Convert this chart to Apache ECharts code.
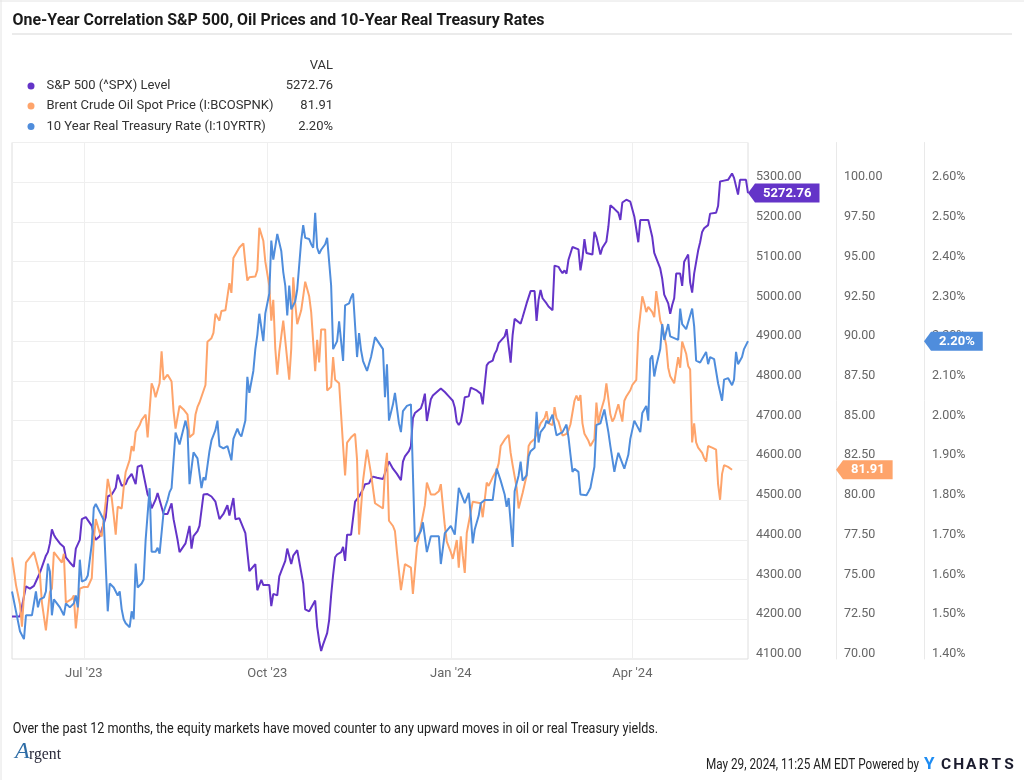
<!DOCTYPE html>
<html>
<head>
<meta charset="utf-8">
<script src="https://cdn.jsdelivr.net/npm/echarts@6/dist/echarts.min.js"></script>
<style>
html, body { margin: 0; background: #fff; }
#main { width: 1024px; height: 780px; }
</style>
</head>
<body>
<div id="main"></div>
<script>
// days counted from 26 May 2023
var spxDays = [0,4,7,9,10,11,12,14,17,18,19,20,21,22,24,26,27,28,29,31,32,33,34,35,37,38,40,41,42,44,45,47,48,50,51,52,53,55,57,58,60,61,62,63,65,66,68,69,70,72,73,76,78,80,81,83,84,85,87,88,89,90,91,93,94,96,97,98,100,102,104,106,108,109,111,112,114,115,117,119,120,122,123,125,126,127,129,130,131,133,134,135,137,138,140,141,143,144,146,147,149,150,152,153,154,155,156,158,159,160,161,162,163,165,166,167,168,170,171,172,174,176,177,179,180,181,183,186,187,189,191,193,195,196,197,199,200,201,202,203,205,206,207,208,210,211,213,215,216,217,219,221,222,223,224,225,226,227,229,230,231,233,235,236,238,239,241,242,243,244,245,247,248,249,250,251,252,253,255,256,258,259,260,261,262,263,264,265,266,268,269,271,272,274,275,276,277,278,279,281,282,284,285,286,287,288,289,291,292,293,295,296,298,299,300,302,304,305,306,308,310,311,312,313,314,315,317,319,320,321,322,323,325,326,327,329,330,331,332,333,335,336,337,338,339,340,341,342,344,345,346,347,349,350,351,353,354,355,356,357,359,360,361,362,364,365,366,368,369];
var spxValues = [4207,4207,4283,4277,4273,4284,4295,4317,4360,4369,4391,4426,4413,4404,4391,4382,4356,4352,4343,4332,4378,4382,4400,4452,4457,4452,4435,4413,4400,4409,4413,4457,4509,4514,4522,4531,4564,4536,4540,4553,4566,4566,4540,4584,4588,4590,4514,4505,4479,4501,4518,4465,4465,4492,4452,4400,4369,4374,4391,4395,4435,4378,4409,4422,4435,4514,4509,4515,4509,4496,4452,4465,4487,4461,4505,4452,4454,4452,4417,4321,4321,4339,4273,4299,4286,4290,4286,4233,4264,4260,4308,4321,4347,4378,4339,4360,4374,4369,4290,4225,4220,4216,4247,4181,4146,4120,4137,4165,4198,4260,4312,4356,4363,4369,4382,4347,4413,4413,4413,4496,4509,4527,4540,4542,4553,4559,4556,4553,4553,4597,4579,4566,4550,4597,4610,4623,4636,4706,4719,4722,4731,4746,4768,4699,4754,4763,4772,4781,4785,4772,4761,4750,4733,4697,4689,4697,4724,4759,4761,4783,4785,4776,4768,4741,4839,4846,4851,4868,4877,4895,4897,4912,4930,4930,4846,4916,4956,4951,4944,4960,4995,5000,5026,5026,5026,4951,5004,5029,5008,4995,4987,4978,5090,5087,5078,5071,5078,5070,5105,5137,5135,5131,5078,5109,5157,5122,5120,5118,5175,5162,5118,5135,5151,5188,5242,5233,5223,5205,5249,5256,5251,5247,5214,5210,5149,5205,5205,5205,5207,5162,5122,5109,5083,5057,5017,4995,4969,4991,5008,5070,5070,5039,5100,5109,5118,5048,5022,5070,5128,5149,5175,5184,5192,5221,5223,5223,5240,5302,5297,5304,5306,5309,5322,5311,5269,5306,5306,5306,5272.76];

var oilDays = [0,2,4,5,7,9,11,12,14,15,17,19,20,21,23,25,26,27,28,30,31,32,34,36,38,40,41,42,44,45,47,48,50,51,52,53,55,56,57,59,60,61,62,64,65,67,68,70,71,72,74,75,76,78,79,80,81,82,84,86,88,89,91,92,93,94,97,98,100,101,102,104,105,107,108,109,110,111,113,114,116,117,118,119,122,123,124,126,127,129,130,131,132,133,134,136,137,139,140,141,142,143,145,146,147,149,150,152,153,154,155,157,158,160,161,162,164,166,167,168,170,172,173,174,176,178,180,182,186,187,188,189,191,192,193,195,196,197,198,200,201,202,203,204,205,207,208,210,212,214,215,217,218,220,221,223,224,225,226,227,228,230,231,232,235,236,238,239,241,243,244,245,247,249,250,251,253,254,255,256,258,259,260,262,263,264,265,267,268,269,271,272,273,274,276,278,279,280,282,283,284,285,286,287,289,290,292,293,294,295,297,298,300,301,302,304,305,306,307,308,310,311,313,314,316,317,318,319,321,322,323,324,325,326,328,329,330,332,334,335,336,338,339,340,341,342,343,344,346,347,348,349,351,353,354,355,356,357,359,361];
var oilValues = [76.40,74.65,73.45,72.03,76.07,76.40,76.73,76.85,75.30,73.55,71.80,74.20,74.43,76.73,76.40,76.07,76.62,73.55,73.55,73.78,74.00,71.92,74.43,74.53,74.53,75.09,77.49,78.81,77.93,77.71,79.90,81.33,80.12,79.03,77.83,79.58,79.47,80.78,81.77,82.53,83.40,83.08,84.28,84.72,85.05,85.38,83.95,87.35,87.02,86.47,87.35,89.36,87.57,87.89,87.68,87.46,85.60,84.50,85.93,85.70,85.38,83.95,84.17,85.38,85.86,86.14,87.24,89.97,90.19,90.52,91.72,91.29,91.90,91.94,91.99,93.65,93.04,95.23,95.67,95.89,96.15,94.90,93.81,94.02,94.07,94.46,97.13,96.32,95.00,93.48,91.29,92.60,89.53,87.89,89.32,91.29,91.18,87.57,89.53,94.02,92.38,91.07,91.94,92.82,93.74,92.82,91.83,88.11,90.08,88.66,90.74,90.74,86.90,87.13,89.00,87.57,87.35,83.40,81.55,83.62,83.95,84.17,82.53,77.83,81.22,83.18,81.65,79.80,79.47,81.87,82.97,78.70,78.37,78.04,76.73,74.33,74.22,75.97,75.85,75.75,74.10,74.10,77.05,76.95,78.37,79.68,81.10,80.35,80.35,80.55,81.00,78.37,77.38,76.73,76.30,77.49,75.75,77.72,76.50,75.42,77.93,79.25,79.90,79.80,79.80,78.92,81.10,80.89,81.43,81.87,82.31,83.40,83.80,84.10,82.97,82.20,80.78,79.47,79.36,80.45,81.55,83.40,83.62,83.85,84.17,84.50,84.83,85.15,85.59,84.83,84.72,85.85,85.15,84.94,84.06,84.17,84.39,84.77,86.25,86.58,86.25,86.60,84.83,84.17,83.73,83.40,83.84,86.14,84.83,85.49,86.36,87.35,85.38,84.94,85.16,86.03,86.14,84.94,86.25,86.52,86.91,87.24,87.57,90.52,92.82,92.38,91.83,92.16,91.83,91.51,93.15,92.27,91.29,90.96,89.75,88.33,87.79,87.35,88.99,88.33,89.97,89.21,88.44,88.22,83.63,84.83,83.63,83.30,82.97,82.64,82.42,83.40,83.30,83.18,81.00,80.02,81.65,82.20,82.09,81.91];

var rateDays = [0,2,4,6,7,8,10,11,12,13,14,16,17,18,19,20,21,22,24,26,27,29,31,32,33,34,35,37,38,40,41,42,44,46,47,48,49,51,53,54,55,56,57,59,60,61,62,63,65,66,67,69,70,72,73,74,75,76,78,79,80,82,83,84,86,87,88,89,91,92,93,95,96,97,99,100,102,103,104,106,108,109,110,111,113,114,115,117,118,119,121,122,123,124,126,127,129,130,131,132,133,135,136,137,138,139,140,142,143,145,146,147,149,150,151,152,153,154,155,157,158,160,161,163,164,166,167,169,170,171,173,174,175,176,178,180,181,182,184,186,187,188,189,191,192,194,195,196,198,200,201,202,203,205,206,207,208,210,212,214,215,217,218,220,221,222,224,226,227,229,230,231,232,234,235,237,238,241,243,245,247,248,249,251,252,254,255,256,258,259,260,262,263,264,265,267,268,269,271,272,273,274,276,278,279,280,281,282,284,285,286,288,289,290,292,293,295,296,297,299,300,302,303,304,305,307,308,309,310,312,313,315,316,317,318,319,320,321,322,323,325,326,327,329,330,331,334,335,336,338,339,341,342,343,345,346,348,349,350,352,353,354,356,357,359,360,361,362,363,364,366,367,369];
var rateValues = [1.57,1.52,1.47,1.45,1.51,1.51,1.51,1.51,1.57,1.53,1.55,1.555,1.57,1.64,1.62,1.51,1.55,1.55,1.53,1.51,1.54,1.53,1.54,1.56,1.53,1.65,1.595,1.60,1.61,1.69,1.78,1.79,1.77,1.75,1.75,1.52,1.59,1.58,1.56,1.57,1.525,1.50,1.49,1.48,1.52,1.50,1.64,1.58,1.59,1.60,1.70,1.83,1.67,1.67,1.68,1.665,1.66,1.77,1.80,1.82,1.83,1.97,1.97,1.94,1.98,2.00,1.976,1.84,1.92,1.92,1.905,1.83,1.857,1.85,1.923,1.95,1.976,2.00,1.936,1.93,1.936,1.936,1.90,1.954,1.98,1.967,1.96,2.00,2.11,2.07,2.125,2.18,2.216,2.269,2.20,2.27,2.32,2.453,2.405,2.41,2.47,2.427,2.374,2.34,2.265,2.34,2.28,2.30,2.33,2.453,2.492,2.46,2.457,2.444,2.435,2.523,2.435,2.42,2.43,2.444,2.46,2.34,2.18,2.20,2.25,2.15,2.29,2.295,2.31,2.32,2.16,2.22,2.177,2.15,2.125,2.16,2.164,2.21,2.195,2.18,2.059,2.142,2.00,2.041,2.07,1.993,1.971,2.024,2.037,2.041,2.037,1.695,1.69,1.722,1.744,1.74,1.669,1.709,1.709,1.709,1.639,1.717,1.722,1.735,1.74,1.713,1.831,1.805,1.792,1.818,1.761,1.691,1.726,1.761,1.792,1.80,1.805,1.80,1.879,1.849,1.814,1.783,1.805,1.682,1.822,1.862,1.897,1.849,1.862,1.91,1.923,1.932,2.022,1.945,1.971,1.984,2.00,1.993,2.015,2.017,1.963,1.964,1.971,1.99,1.958,1.914,1.871,1.879,1.871,1.814,1.812,1.812,1.821,1.831,1.884,1.989,1.993,2.011,2.028,1.971,1.936,1.871,1.897,1.919,1.919,1.879,1.879,1.914,1.954,2.00,1.998,1.971,2.019,2.028,2.037,2.00,2.155,2.164,2.111,2.138,2.18,2.243,2.203,2.243,2.212,2.212,2.203,2.282,2.243,2.23,2.225,2.282,2.238,2.151,2.146,2.142,2.173,2.142,2.16,2.155,2.151,2.094,2.05,2.103,2.107,2.111,2.089,2.103,2.173,2.142,2.16,2.18,2.20];

var seriesNames = ['S&P 500 (^SPX) Level', 'Brent Crude Oil Spot Price (I:BCOSPNK)', '10 Year Real Treasury Rate (I:10YRTR)'];
var lastValues = ['5272.76', '81.91', '2.20%'];
var quarterDates = [[2023, 6, 1], [2023, 9, 1], [2024, 0, 1], [2024, 3, 1]];
var quarterLabels = ["Jul '23", "Oct '23", "Jan '24", "Apr '24"];

var colors = ['#6434c8', '#fea46b', '#4f8ddc'];
var font = 'Roboto';

function dayToTime(d) {
    return new Date(2023, 4, 26 + d).getTime();
}

function pairs(days, values) {
    return days.map(function (d, i) { return [dayToTime(d), values[i]]; });
}

var quarterTimes = quarterDates.map(function (q) { return new Date(q[0], q[1], q[2]).getTime(); });
var xMin = dayToTime(0);
var xMax = new Date(2024, 4, 29).getTime();

var measureCtx = document.createElement('canvas').getContext('2d');
function textWidth(str, f) {
    measureCtx.font = f;
    return measureCtx.measureText(str).width;
}

// text squeezed to a given width (the reference uses a condensed face)
function fitText(str, x, y, size, weight, width, fill, family) {
    var f = weight + ' ' + size + 'px ' + (family || font);
    return {
        type: 'text', x: x, y: y, scaleX: width / textWidth(str, f),
        style: { text: str, font: f, fill: fill, verticalAlign: 'middle' }
    };
}

function yAxis(min, max, interval, offset, fmt) {
    return {
        type: 'value', position: 'right', offset: offset,
        min: min, max: max, interval: interval,
        axisLine: { show: offset > 0, lineStyle: { color: '#e9e9e9' } },
        axisTick: { show: false },
        splitLine: { show: offset === 0, lineStyle: { color: '#efefef' } },
        axisLabel: {
            showMaxLabel: false, color: '#666', fontSize: 12.5, fontFamily: font,
            margin: 8, verticalAlign: 'bottom', lineHeight: 10, formatter: fmt
        }
    };
}

var staticGraphics = [
    { type: 'line', shape: { x1: 1, y1: 0, x2: 1, y2: 780 }, style: { stroke: '#e4e4e4', lineWidth: 1 } },
    { type: 'line', shape: { x1: 0, y1: 1, x2: 1024, y2: 1 }, style: { stroke: '#e4e4e4', lineWidth: 1 } },
    fitText('One-Year Correlation S&P 500, Oil Prices and 10-Year Real Treasury Rates', 12.5, 21, 16.5, 'bold', 532, '#1a1a1a'),
    { type: 'line', shape: { x1: 12, y1: 34, x2: 1012, y2: 34 }, style: { stroke: '#ebebeb', lineWidth: 2 } },
    { type: 'text', x: 333, y: 65.5, style: { text: 'VAL', font: '13px ' + font, fill: '#333', align: 'right', verticalAlign: 'middle' } }
];

var rowY = [86, 106, 126.5];
seriesNames.forEach(function (name, i) {
    staticGraphics.push(
        { type: 'circle', shape: { cx: 31, cy: rowY[i], r: 3.5 }, style: { fill: colors[i] } },
        { type: 'text', x: 46.5, y: rowY[i], style: { text: name, font: '13px ' + font, fill: '#333', verticalAlign: 'middle' } },
        { type: 'text', x: 333, y: rowY[i], style: { text: lastValues[i], font: '13px ' + font, fill: '#333', align: 'right', verticalAlign: 'middle' } }
    );
});

staticGraphics.push(
    fitText('Over the past 12 months, the equity markets have moved counter to any upward moves in oil or real Treasury yields.', 12.7, 729.5, 14, 'normal', 645.5, '#222'),
    fitText('May 29, 2024, 11:25 AM EDT Powered by', 706, 765, 14, 'normal', 213, '#222'),
    { type: 'text', x: 924, y: 765, style: { text: 'Y', font: 'bold 17px ' + font, fill: '#1e8cf2', verticalAlign: 'middle' } },
    { type: 'text', x: 15, y: 752, style: { text: 'A', font: 'italic 24px "Liberation Serif"', fill: '#2f6da6', verticalAlign: 'middle' } },
    fitText('rgent', 29, 755, 17, 'normal', 32, '#2a2a3a', '"Liberation Serif"')
);
'CHARTS'.split('').forEach(function (ch, i) {
    staticGraphics.push({ type: 'text', x: 946 + i * 12.6, y: 765, style: { text: ch, font: 'bold 15.5px ' + font, fill: '#1b1c2e', align: 'center', verticalAlign: 'middle' } });
});

var chart = echarts.init(document.getElementById('main'));
var option = {
    animation: false,
    backgroundColor: '#fff',
    textStyle: { fontFamily: font },
    grid: { left: 12, top: 142.5, right: 276, bottom: 121, show: true, borderColor: '#dedede', borderWidth: 1, outerBoundsMode: 'none' },
    xAxis: {
        type: 'value', min: xMin, max: xMax,
        axisLine: { show: false },
        axisTick: { show: false, customValues: quarterTimes },
        axisLabel: {
            customValues: quarterTimes, color: '#666', fontSize: 13, fontFamily: font, margin: 8,
            formatter: function (v) {
                var i = quarterTimes.indexOf(v);
                return i >= 0 ? quarterLabels[i] : '';
            }
        },
        splitLine: { show: true, lineStyle: { color: '#efefef' } }
    },
    yAxis: [
        yAxis(4100, 5400, 100, 0, function (v) { return v.toFixed(2); }),
        yAxis(70, 102.5, 2.5, 88, function (v) { return v.toFixed(2); }),
        yAxis(1.4, 2.7, 0.1, 176, function (v) { return v.toFixed(2) + '%'; })
    ],
    series: [
        { name: seriesNames[0], type: 'line', yAxisIndex: 0, data: pairs(spxDays, spxValues) },
        { name: seriesNames[1], type: 'line', yAxisIndex: 1, data: pairs(oilDays, oilValues) },
        { name: seriesNames[2], type: 'line', yAxisIndex: 2, data: pairs(rateDays, rateValues) }
    ].map(function (s, i) {
        s.showSymbol = false;
        s.color = colors[i];
        s.lineStyle = { width: 2, color: colors[i] };
        return s;
    }),
    graphic: staticGraphics
};
chart.setOption(option);

// value tags on the right axes, drawn above the axis labels
var rightEdge = chart.convertToPixel({ xAxisIndex: 0 }, xMax);
var axisOffsets = [0, 88, 176];
var tagValues = [spxValues[spxValues.length - 1], oilValues[oilValues.length - 1], rateValues[rateValues.length - 1]];
var tags = tagValues.map(function (v, i) {
    var y = chart.convertToPixel({ yAxisIndex: i }, v);
    var tagFont = 'bold 13px ' + font;
    var w = textWidth(lastValues[i], tagFont) + 16;
    return {
        type: 'group', x: rightEdge + axisOffsets[i], y: y, zlevel: 1,
        children: [
            { type: 'polygon', zlevel: 1, shape: { points: [[0, 0], [7, -9.5], [7 + w, -9.5], [7 + w, 9.5], [7, 9.5]] }, style: { fill: colors[i] } },
            { type: 'text', zlevel: 1, x: 7 + w / 2, y: 0.5, style: { text: lastValues[i], font: tagFont, fill: '#fff', align: 'center', verticalAlign: 'middle' } }
        ]
    };
});
chart.setOption({ graphic: staticGraphics.concat(tags) });
</script>
</body>
</html>
